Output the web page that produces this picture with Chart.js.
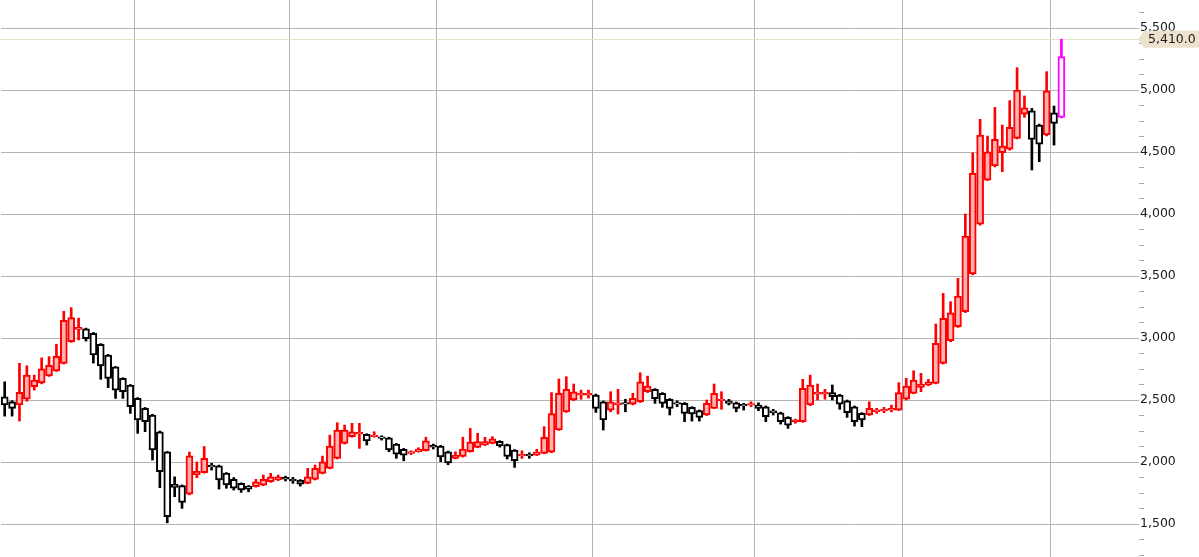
<!DOCTYPE html>
<html>
<head>
<meta charset="utf-8">
<script src="https://cdn.jsdelivr.net/npm/chart.js@4.4.1/dist/chart.umd.min.js"></script>
<style>
html, body { margin: 0; padding: 0; background: #fff; }
canvas { display: block; }
</style>
</head>
<body>
<canvas id="myChart" width="1199" height="557"></canvas>
<script>
// daily candles, oldest first
const opens = [2526, 2486, 2460, 2506, 2607, 2637, 2695, 2735, 2796, 2970, 3070, 3075, 3038, 2950, 2863, 2768, 2675, 2620, 2513, 2433,
    2379, 2244, 2083, 1820, 1810, 1740, 1895, 1914, 1975, 1970, 1910, 1860, 1828, 1806, 1801, 1814, 1841, 1855, 1876, 1862,
    1855, 1828, 1860, 1909, 1949, 2029, 2150, 2204, 2225, 2223, 2204, 2204, 2195, 2145, 2102, 2070, 2083, 2091, 2135, 2129,
    2083, 2029, 2045, 2083, 2118, 2137, 2150, 2166, 2140, 2097, 2050, 2062, 2056, 2070, 2080, 2258, 2405, 2500, 2540, 2540,
    2540, 2486, 2419, 2460, 2480, 2466, 2486, 2567, 2586, 2554, 2506, 2480, 2473, 2441, 2414, 2379, 2433, 2494, 2494, 2478,
    2466, 2458, 2460, 2446, 2412, 2397, 2360, 2326, 2325, 2460, 2548, 2548, 2559, 2540, 2494, 2446, 2392, 2379, 2406, 2412,
    2418, 2419, 2506, 2554, 2602, 2621, 2634, 2796, 2978, 3091, 3212, 3516, 3919, 4274, 4387, 4494, 4522, 4610, 4806, 4833,
    4718, 4637, 4817, 4780];
const highs = [2647, 2495, 2796, 2776, 2701, 2840, 2850, 2950, 3215, 3245, 3160, 3080, 3045, 2955, 2868, 2770, 2680, 2625, 2520, 2440,
    2385, 2250, 2085, 1880, 1815, 2080, 2000, 2125, 1990, 1975, 1915, 1875, 1832, 1810, 1860, 1895, 1909, 1895, 1886, 1876,
    1858, 1949, 1976, 2048, 2217, 2317, 2298, 2312, 2312, 2228, 2244, 2212, 2200, 2150, 2110, 2090, 2115, 2200, 2145, 2135,
    2088, 2083, 2200, 2271, 2231, 2199, 2204, 2172, 2145, 2100, 2091, 2075, 2102, 2285, 2560, 2670, 2688, 2629, 2580, 2580,
    2548, 2492, 2567, 2586, 2506, 2554, 2720, 2693, 2592, 2560, 2512, 2494, 2480, 2446, 2420, 2500, 2629, 2567, 2506, 2484,
    2473, 2486, 2478, 2452, 2425, 2402, 2366, 2346, 2667, 2701, 2629, 2586, 2621, 2546, 2500, 2452, 2398, 2486, 2433, 2441,
    2459, 2640, 2675, 2736, 2715, 2667, 3113, 3360, 3293, 3481, 4000, 4494, 4764, 4629, 4860, 4718, 4914, 5180, 4952, 4852,
    4725, 5148, 4871, 5410];
const lows = [2370, 2370, 2330, 2490, 2580, 2630, 2690, 2730, 2790, 2965, 2985, 2975, 2798, 2667, 2600, 2513, 2513, 2392, 2231, 2245,
    2016, 1793, 1510, 1720, 1626, 1735, 1873, 1910, 1935, 1782, 1788, 1774, 1755, 1760, 1797, 1810, 1836, 1850, 1847, 1828,
    1806, 1825, 1855, 1905, 1945, 2025, 2145, 2200, 2110, 2137, 2200, 2177, 2083, 2030, 2010, 2060, 2080, 2088, 2105, 2002,
    1978, 2025, 2040, 2080, 2115, 2133, 2147, 2120, 2024, 1957, 2029, 2030, 2052, 2066, 2075, 2255, 2400, 2495, 2506, 2515,
    2400, 2258, 2405, 2387, 2405, 2460, 2480, 2560, 2473, 2441, 2379, 2446, 2325, 2330, 2330, 2375, 2430, 2425, 2460, 2405,
    2419, 2446, 2414, 2325, 2379, 2306, 2271, 2312, 2320, 2455, 2500, 2506, 2500, 2425, 2360, 2290, 2285, 2375, 2392, 2397,
    2405, 2415, 2500, 2550, 2567, 2615, 2630, 2790, 2970, 3085, 3205, 3510, 3910, 4270, 4380, 4341, 4515, 4605, 4780, 4355,
    4422, 4630, 4556, 4775];
const closes = [2460, 2433, 2562, 2701, 2661, 2752, 2780, 2852, 3142, 3164, 3086, 2995, 2863, 2775, 2675, 2580, 2567, 2446, 2340, 2325,
    2097, 1922, 1560, 1795, 1675, 2050, 1927, 2030, 1960, 1855, 1815, 1790, 1775, 1782, 1841, 1860, 1881, 1881, 1862, 1848,
    1822, 1881, 1949, 2002, 2129, 2258, 2258, 2244, 2240, 2171, 2217, 2190, 2097, 2064, 2056, 2085, 2104, 2170, 2120, 2042,
    1992, 2056, 2105, 2160, 2164, 2164, 2188, 2129, 2045, 2010, 2062, 2050, 2080, 2200, 2390, 2554, 2586, 2567, 2555, 2555,
    2433, 2339, 2486, 2478, 2466, 2513, 2647, 2613, 2510, 2473, 2433, 2466, 2392, 2387, 2360, 2473, 2554, 2508, 2473, 2433,
    2452, 2472, 2433, 2366, 2398, 2325, 2298, 2340, 2594, 2621, 2562, 2562, 2526, 2467, 2397, 2325, 2339, 2433, 2420, 2426,
    2432, 2559, 2613, 2661, 2629, 2647, 2957, 3159, 3204, 3339, 3822, 4328, 4637, 4502, 4602, 4548, 4699, 5000, 4857, 4602,
    4564, 4994, 4731, 5269];

// first trading day of each month (vertical grid lines)
const monthStarts = [18, 39, 59, 80, 102, 122, 142];
// y axis: labelled every 500, small marks every 125
const majorTicks = [1500, 2000, 2500, 3000, 3500, 4000, 4500, 5000, 5500];
const minorStep = 125;
const yMin = 1234, yMax = 5726;
const slotCount = 154; // candles + empty room on the right

const lastPrice = highs[highs.length - 1];
const labels = Array.from({ length: slotCount }, (_, i) => String(i));
const last = opens.length - 1;

const lineColor = opens.map((o, i) => i === last ? "#ff00ff" : (closes[i] >= o ? "#ff0000" : "#000000"));
const fillColor = opens.map((o, i) => i === last ? "#ffffff" : (closes[i] >= o ? "#ffb2b2" : "#ffffff"));

const yTicks = [];
for (let v = majorTicks[0] - minorStep * 2; v <= yMax; v += minorStep) {
    if (v >= yMin) yTicks.push(v);
}
const isMajor = (v) => majorTicks.includes(v);

// price line + tag on the axis
const priceTag = {
    id: "priceTag",
    beforeDatasetsDraw(chart) {
        const ctx = chart.ctx;
        const area = chart.chartArea;
        const y = Math.round(chart.scales.y.getPixelForValue(lastPrice)) + 0.5;
        ctx.save();
        ctx.strokeStyle = "#e8dfcf";
        ctx.lineWidth = 1;
        ctx.beginPath();
        ctx.moveTo(area.left - 1, y);
        ctx.lineTo(area.right, y);
        ctx.stroke();
        ctx.restore();
    },
    afterDraw(chart) {
        const ctx = chart.ctx;
        const area = chart.chartArea;
        const y = chart.scales.y.getPixelForValue(lastPrice);
        ctx.save();
        ctx.fillStyle = "#ece2cd";
        ctx.beginPath();
        ctx.moveTo(area.right - 1, y);
        ctx.lineTo(area.right + 5, y - 8.5);
        ctx.lineTo(chart.width, y - 8.5);
        ctx.lineTo(chart.width, y + 8.5);
        ctx.lineTo(area.right + 5, y + 8.5);
        ctx.closePath();
        ctx.fill();
        ctx.fillStyle = "#1a1a1a";
        ctx.font = "12.5px 'DejaVu Sans'";
        ctx.textBaseline = "middle";
        ctx.fillText(lastPrice.toLocaleString("en-US", { minimumFractionDigits: 1 }), area.right + 9, y + 0.5);
        ctx.restore();
    }
};

new Chart(document.getElementById("myChart"), {
    type: "bar",
    data: {
        labels: labels,
        datasets: [
            {
                // bodies
                data: opens.map((o, i) => [o, closes[i]]),
                backgroundColor: fillColor,
                borderColor: lineColor,
                borderWidth: 2,
                borderSkipped: false,
                barThickness: 7,
                grouped: false,
                order: 0
            },
            {
                // wicks
                data: lows.map((l, i) => [l, highs[i]]),
                backgroundColor: lineColor,
                borderWidth: 0,
                barThickness: 2,
                grouped: false,
                order: 1
            }
        ]
    },
    plugins: [priceTag],
    options: {
        responsive: false,
        animation: false,
        events: [],
        layout: { padding: { left: 1, right: 0, top: 0, bottom: 0 } },
        plugins: {
            legend: { display: false },
            tooltip: { enabled: false }
        },
        scales: {
            x: {
                border: { display: false },
                ticks: { display: false, autoSkip: false },
                grid: {
                    offset: true,
                    drawTicks: false,
                    color: (c) => monthStarts.includes(c.index) ? "#b4b4b4" : "rgba(0,0,0,0)"
                },
                afterFit: (scale) => {
                    scale.height = 0;
                    scale.paddingLeft = 0;
                    scale.paddingRight = 0;
                }
            },
            y: {
                position: "right",
                min: yMin,
                max: yMax,
                border: { display: false },
                afterBuildTicks: (scale) => {
                    scale.ticks = yTicks.map((v) => ({ value: v }));
                },
                afterFit: (scale) => {
                    scale.width = 60;
                    scale.paddingTop = 0;
                    scale.paddingBottom = 0;
                },
                grid: {
                    drawTicks: true,
                    tickLength: 5,
                    color: (c) => c.tick && isMajor(c.tick.value) ? "#b4b4b4" : "rgba(0,0,0,0)",
                    tickColor: (c) => c.tick && isMajor(c.tick.value) ? "rgba(0,0,0,0)" : "#a8a8a8"
                },
                ticks: {
                    autoSkip: false,
                    padding: -4,
                    color: "#1a1a1a",
                    font: { family: "'DejaVu Sans'", size: 12.5 },
                    callback: (v) => isMajor(v) ? v.toLocaleString("en-US") : ""
                }
            }
        }
    }
});
</script>
</body>
</html>
